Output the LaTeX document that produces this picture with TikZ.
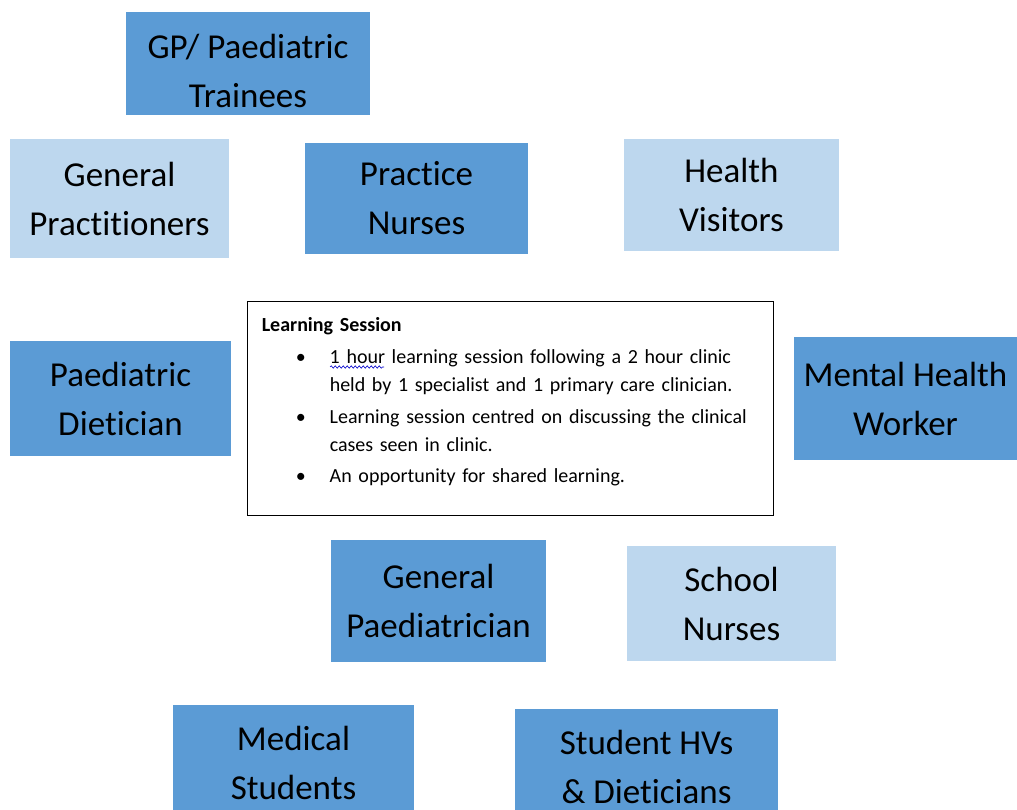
\documentclass[tikz,border=0pt]{standalone}
\usepackage{fontspec}
\setmainfont{Carlito}[Ligatures=NoCommon]
\usepackage{tikz}
\usetikzlibrary{positioning}
\usetikzlibrary{decorations.pathmorphing}
\usepackage{xcolor}
\definecolor{roledark}{HTML}{5B9BD5}
\definecolor{rolelight}{HTML}{BDD7EE}

\begin{document}
\begin{tikzpicture} [x=1pt, y=-1pt,
		role/.style={rectangle, inner sep=0pt, align=center, text=black, font=\fontsize{35}{49}\selectfont},
		darkrole/.style={role, fill=roledark},
		lightrole/.style={role, fill=rolelight}]
					\useasboundingbox (0, 0) rectangle (1017, 810);
					\clip (0, 0) rectangle (1017, 810);

					\node [darkrole, minimum width=244, minimum height=103] (trainees) at (248, 63.5) {};
					\node [role] (traineestext) at ([yshift=-7pt]trainees.center) {GP/ Paediatric\\Trainees};
					\node [lightrole, minimum width=219, minimum height=119] (gps) at (119.5, 198.5) {General\\Practitioners};
					\node [darkrole, minimum width=223, minimum height=111] (pnurses) at (416.5, 198.5) {Practice\\Nurses};
					\node [lightrole, minimum width=215, minimum height=112] (hvisitors) at (731.5, 195) {Health\\Visitors};
					\node [darkrole, minimum width=221, minimum height=115] (dietician) at (120.5, 398.5) {Paediatric\\Dietician};
					\node [darkrole, minimum width=223, minimum height=123] (mhworker) at (905.5, 398.5) {Mental Health\\Worker};
					\node [darkrole, minimum width=215, minimum height=122] (paediatrician) at (438.5, 601) {General\\Paediatrician};
					\node [lightrole, minimum width=209, minimum height=115] (snurses) at (731.5, 603.5) {School\\Nurses};
					\node [darkrole, minimum width=241, minimum height=115] (medstudents) at (293.5, 762.5) {Medical\\Students};
					\node [darkrole, minimum width=263, minimum height=115] (studenthvs) at (646.5, 766.5) {Student HVs\\\& Dieticians};

					% learning session box
					\node [draw=black, line width=0.9pt, fill=white, minimum width=526, minimum height=214] (session) at (510, 408) {};
					\node [anchor=north west, inner sep=0pt, text width=500, align=left, font=\fontsize{20}{28}\selectfont] (sessiontext) at ([xshift=15pt, yshift=-17pt]session.north west) {%
						\textbf{Learning Session}\par\vspace{4pt}
						\leftskip=68pt
						\leavevmode\llap{\textbullet\hspace{24pt}}1 hour learning session following a 2 hour clinic\newline held by 1 specialist and 1 primary care clinician.\par\vspace{4pt}
						\leavevmode\llap{\textbullet\hspace{24pt}}Learning session centred on discussing the clinical\newline cases seen in clinic.\par\vspace{3pt}
						\leavevmode\llap{\textbullet\hspace{24pt}}An opportunity for shared learning.\par};
					\draw [blue!80!black, line width=0.6pt, decorate, decoration={snake, amplitude=1.2pt, segment length=4pt}] (330, 367)--(384, 367);
				\end{tikzpicture}
\end{document}
